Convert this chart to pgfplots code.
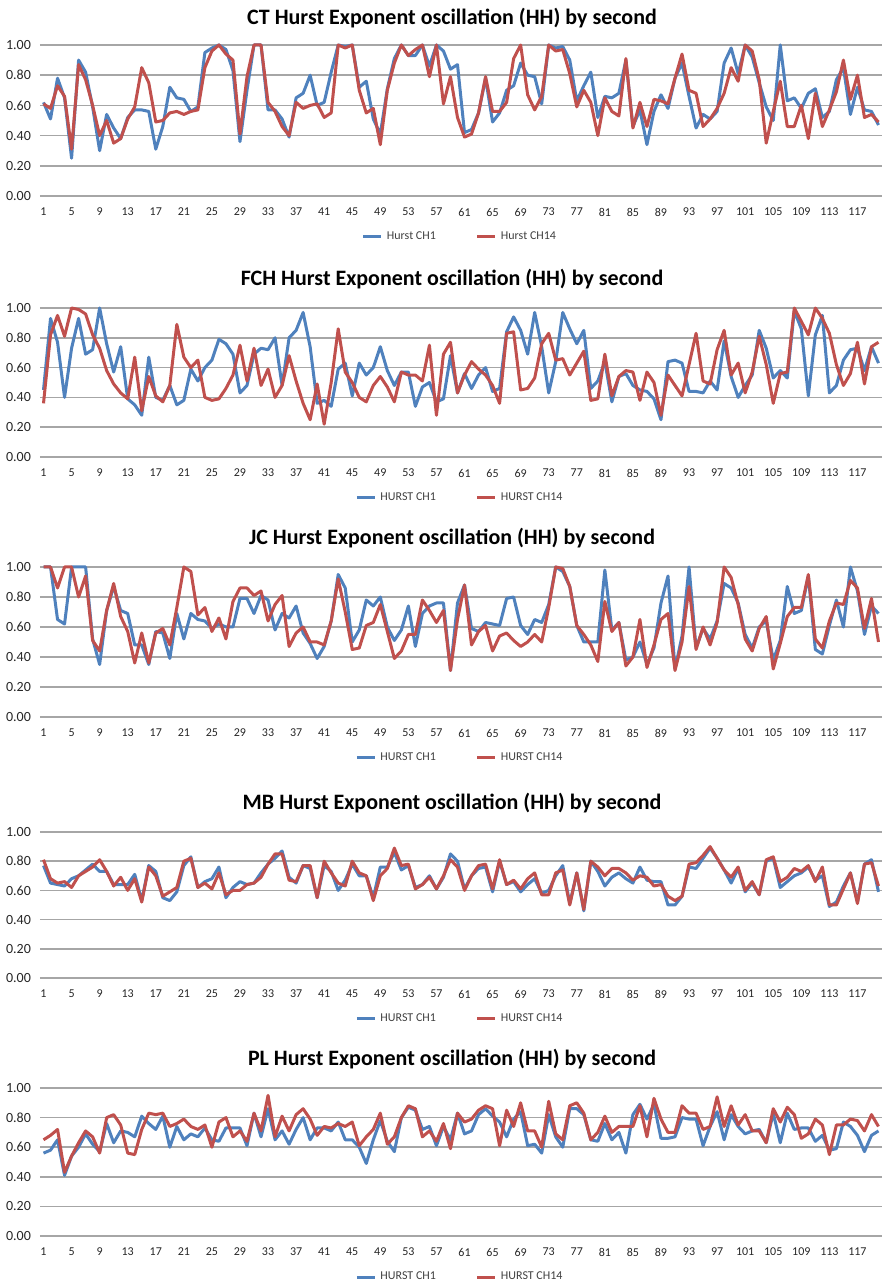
\documentclass[border=0pt]{standalone}
\usepackage{pgfplots}
\usepackage{pgfplotstable}
\pgfplotsset{compat=1.18}
\usepackage{fontspec}
\setmainfont{Carlito}
\definecolor{xlblue}{HTML}{4F81BD}
\definecolor{xlred}{HTML}{C0504D}
\definecolor{gridgray}{HTML}{A6A6A6}
\definecolor{txtgray}{HTML}{262626}
\definecolor{leggray}{HTML}{404040}

% each line is one series (Hurst CH1, Hurst CH14), 120 seconds
\pgfplotstableread[header=false]{
0.62 0.51 0.78 0.65 0.25 0.90 0.82 0.59 0.30 0.54 0.45 0.38 0.52 0.57 0.57 0.56 0.31 0.46 0.72 0.65 0.64 0.56 0.59 0.95 0.98 1.00 0.97 0.83 0.36 0.70 1.00 1.00 0.57 0.57 0.51 0.39 0.65 0.68 0.80 0.60 0.62 0.82 1.00 0.99 1.00 0.72 0.76 0.51 0.41 0.71 0.91 1.00 0.93 0.93 1.00 0.86 1.00 0.96 0.84 0.87 0.42 0.44 0.55 0.78 0.49 0.55 0.70 0.73 0.88 0.80 0.79 0.61 1.00 0.98 0.99 0.90 0.63 0.73 0.82 0.52 0.66 0.65 0.68 0.90 0.46 0.57 0.34 0.56 0.67 0.58 0.78 0.88 0.66 0.45 0.54 0.51 0.56 0.88 0.98 0.81 1.00 0.92 0.75 0.59 0.50 1.00 0.63 0.65 0.58 0.68 0.71 0.52 0.56 0.77 0.85 0.54 0.72 0.57 0.56 0.47
0.61 0.58 0.73 0.66 0.31 0.87 0.77 0.60 0.40 0.50 0.35 0.38 0.51 0.59 0.85 0.75 0.49 0.50 0.55 0.56 0.54 0.56 0.57 0.85 0.96 1.00 0.94 0.90 0.41 0.79 1.00 1.00 0.62 0.56 0.46 0.40 0.62 0.58 0.60 0.61 0.52 0.55 1.00 0.98 1.00 0.70 0.55 0.58 0.34 0.70 0.88 1.00 0.93 0.97 1.00 0.79 1.00 0.61 0.79 0.52 0.39 0.41 0.55 0.79 0.56 0.56 0.62 0.91 1.00 0.67 0.57 0.66 1.00 0.96 0.97 0.81 0.59 0.70 0.62 0.40 0.65 0.56 0.53 0.91 0.45 0.62 0.46 0.64 0.63 0.61 0.78 0.94 0.70 0.68 0.46 0.51 0.58 0.68 0.85 0.76 1.00 0.96 0.77 0.35 0.56 0.76 0.46 0.46 0.60 0.38 0.68 0.46 0.57 0.69 0.90 0.64 0.80 0.52 0.54 0.49
}\rawCT
\pgfplotstableread[header=false]{
0.45 0.93 0.77 0.40 0.73 0.93 0.69 0.72 1.00 0.76 0.57 0.74 0.39 0.35 0.28 0.67 0.40 0.38 0.48 0.35 0.38 0.59 0.51 0.60 0.65 0.79 0.76 0.69 0.43 0.48 0.69 0.73 0.72 0.80 0.48 0.80 0.85 0.97 0.74 0.36 0.38 0.34 0.59 0.63 0.41 0.63 0.55 0.60 0.74 0.58 0.48 0.57 0.57 0.34 0.47 0.50 0.37 0.39 0.68 0.43 0.56 0.46 0.55 0.60 0.44 0.46 0.84 0.94 0.85 0.69 0.97 0.74 0.43 0.64 0.97 0.86 0.76 0.85 0.46 0.51 0.64 0.37 0.54 0.56 0.48 0.45 0.44 0.39 0.25 0.64 0.65 0.63 0.44 0.44 0.43 0.51 0.45 0.78 0.54 0.40 0.48 0.55 0.85 0.73 0.53 0.58 0.53 0.98 0.86 0.41 0.82 0.95 0.43 0.48 0.65 0.72 0.73 0.58 0.74 0.63
0.36 0.82 0.95 0.81 1.00 0.99 0.96 0.82 0.73 0.58 0.49 0.43 0.39 0.67 0.31 0.54 0.41 0.37 0.48 0.89 0.67 0.60 0.65 0.40 0.38 0.39 0.46 0.55 0.75 0.51 0.73 0.48 0.59 0.40 0.48 0.68 0.51 0.36 0.25 0.49 0.22 0.50 0.86 0.57 0.50 0.40 0.37 0.48 0.54 0.47 0.37 0.57 0.55 0.55 0.51 0.75 0.28 0.69 0.77 0.43 0.55 0.64 0.59 0.55 0.48 0.36 0.83 0.84 0.45 0.46 0.53 0.76 0.83 0.65 0.66 0.55 0.63 0.71 0.38 0.39 0.69 0.41 0.54 0.58 0.57 0.38 0.57 0.50 0.28 0.55 0.48 0.41 0.62 0.83 0.51 0.49 0.72 0.85 0.55 0.63 0.43 0.57 0.81 0.62 0.36 0.56 0.57 1.00 0.91 0.82 1.00 0.93 0.83 0.62 0.48 0.56 0.77 0.49 0.74 0.77
}\rawFCH
\pgfplotstableread[header=false]{
1.00 1.00 0.65 0.62 1.00 1.00 1.00 0.52 0.35 0.71 0.87 0.71 0.69 0.48 0.48 0.35 0.57 0.56 0.39 0.69 0.52 0.69 0.65 0.64 0.59 0.62 0.60 0.60 0.79 0.79 0.69 0.81 0.78 0.58 0.69 0.66 0.74 0.56 0.49 0.39 0.47 0.64 0.95 0.86 0.50 0.58 0.78 0.74 0.80 0.60 0.51 0.58 0.74 0.47 0.69 0.74 0.76 0.76 0.31 0.76 0.88 0.59 0.57 0.63 0.62 0.61 0.79 0.80 0.61 0.55 0.65 0.63 0.75 1.00 0.97 0.87 0.61 0.50 0.50 0.50 0.98 0.58 0.63 0.38 0.40 0.50 0.35 0.46 0.76 0.94 0.32 0.54 1.00 0.46 0.59 0.52 0.64 0.89 0.86 0.76 0.55 0.46 0.60 0.64 0.38 0.51 0.87 0.69 0.71 0.94 0.45 0.42 0.61 0.78 0.60 1.00 0.84 0.55 0.74 0.69
1.00 1.00 0.86 1.00 1.00 0.80 0.94 0.51 0.44 0.71 0.89 0.67 0.57 0.36 0.56 0.36 0.56 0.59 0.48 0.73 1.00 0.97 0.68 0.73 0.57 0.66 0.52 0.77 0.86 0.86 0.81 0.84 0.64 0.75 0.81 0.47 0.56 0.60 0.50 0.50 0.48 0.64 0.92 0.70 0.45 0.46 0.61 0.63 0.75 0.57 0.39 0.44 0.55 0.55 0.78 0.71 0.63 0.71 0.31 0.65 0.88 0.48 0.57 0.61 0.44 0.54 0.56 0.51 0.47 0.50 0.55 0.50 0.73 1.00 0.99 0.87 0.61 0.55 0.48 0.37 0.77 0.57 0.63 0.34 0.40 0.65 0.33 0.48 0.65 0.69 0.31 0.50 0.87 0.45 0.60 0.48 0.63 1.00 0.93 0.75 0.52 0.44 0.59 0.67 0.32 0.49 0.67 0.73 0.73 0.95 0.52 0.46 0.64 0.76 0.75 0.91 0.86 0.59 0.79 0.50
}\rawJC
\pgfplotstableread[header=false]{
0.77 0.65 0.64 0.63 0.68 0.70 0.74 0.78 0.73 0.73 0.64 0.64 0.64 0.71 0.53 0.77 0.73 0.55 0.53 0.59 0.77 0.83 0.62 0.66 0.68 0.76 0.55 0.62 0.66 0.64 0.65 0.72 0.78 0.82 0.87 0.69 0.65 0.77 0.75 0.55 0.77 0.73 0.60 0.67 0.78 0.70 0.70 0.55 0.76 0.76 0.86 0.74 0.77 0.62 0.64 0.70 0.61 0.69 0.85 0.80 0.61 0.70 0.75 0.76 0.59 0.80 0.64 0.66 0.59 0.64 0.68 0.58 0.60 0.70 0.77 0.51 0.72 0.46 0.80 0.73 0.63 0.69 0.72 0.68 0.65 0.76 0.67 0.66 0.66 0.50 0.50 0.56 0.76 0.75 0.82 0.89 0.82 0.74 0.65 0.75 0.59 0.65 0.57 0.80 0.82 0.62 0.66 0.70 0.72 0.76 0.67 0.70 0.49 0.52 0.63 0.72 0.52 0.78 0.81 0.59
0.81 0.68 0.65 0.66 0.62 0.70 0.73 0.76 0.81 0.73 0.63 0.69 0.60 0.68 0.52 0.76 0.70 0.56 0.59 0.62 0.80 0.82 0.62 0.65 0.61 0.72 0.57 0.60 0.60 0.64 0.65 0.69 0.78 0.85 0.85 0.67 0.66 0.77 0.77 0.55 0.80 0.72 0.65 0.63 0.80 0.72 0.70 0.53 0.70 0.75 0.89 0.77 0.78 0.61 0.64 0.69 0.61 0.70 0.81 0.76 0.60 0.70 0.77 0.78 0.61 0.81 0.64 0.67 0.61 0.68 0.72 0.57 0.57 0.72 0.74 0.50 0.72 0.47 0.80 0.76 0.70 0.75 0.75 0.72 0.67 0.70 0.69 0.63 0.64 0.56 0.53 0.56 0.78 0.79 0.84 0.90 0.82 0.74 0.69 0.76 0.60 0.66 0.57 0.81 0.83 0.66 0.69 0.75 0.73 0.77 0.66 0.76 0.50 0.50 0.61 0.72 0.51 0.78 0.79 0.63
}\rawMB
\pgfplotstableread[header=false]{
0.56 0.58 0.65 0.41 0.54 0.60 0.69 0.62 0.57 0.76 0.63 0.71 0.70 0.67 0.81 0.76 0.72 0.81 0.60 0.74 0.65 0.69 0.67 0.73 0.65 0.64 0.73 0.73 0.73 0.61 0.83 0.67 0.86 0.65 0.71 0.62 0.72 0.80 0.65 0.73 0.73 0.71 0.77 0.65 0.65 0.60 0.49 0.65 0.78 0.64 0.57 0.80 0.87 0.85 0.72 0.74 0.61 0.74 0.65 0.83 0.69 0.71 0.82 0.86 0.81 0.77 0.67 0.79 0.84 0.61 0.62 0.56 0.82 0.67 0.60 0.86 0.86 0.82 0.65 0.64 0.76 0.65 0.70 0.56 0.82 0.89 0.79 0.89 0.66 0.66 0.67 0.80 0.79 0.79 0.61 0.74 0.84 0.65 0.82 0.74 0.69 0.71 0.72 0.63 0.83 0.63 0.83 0.72 0.73 0.73 0.64 0.68 0.58 0.59 0.77 0.74 0.68 0.57 0.68 0.71
0.65 0.68 0.72 0.43 0.54 0.63 0.71 0.67 0.56 0.80 0.82 0.75 0.56 0.55 0.72 0.83 0.82 0.83 0.74 0.76 0.79 0.74 0.72 0.75 0.60 0.77 0.80 0.67 0.71 0.64 0.83 0.71 0.95 0.67 0.81 0.71 0.82 0.86 0.79 0.68 0.74 0.73 0.76 0.74 0.77 0.61 0.67 0.72 0.83 0.62 0.67 0.80 0.88 0.86 0.67 0.71 0.64 0.76 0.59 0.83 0.77 0.79 0.85 0.88 0.86 0.61 0.85 0.74 0.90 0.71 0.71 0.60 0.91 0.69 0.65 0.88 0.90 0.83 0.65 0.70 0.81 0.70 0.74 0.74 0.74 0.88 0.67 0.93 0.79 0.70 0.70 0.88 0.83 0.83 0.72 0.74 0.94 0.74 0.88 0.75 0.82 0.71 0.71 0.63 0.86 0.77 0.87 0.82 0.66 0.69 0.79 0.75 0.55 0.75 0.75 0.79 0.78 0.71 0.82 0.74
}\rawPL
\pgfplotstabletranspose{\tCT}{\rawCT}
\pgfplotstabletranspose{\tFCH}{\rawFCH}
\pgfplotstabletranspose{\tJC}{\rawJC}
\pgfplotstabletranspose{\tMB}{\rawMB}
\pgfplotstabletranspose{\tPL}{\rawPL}

\pgfplotsset{
  hh/.style={
    scale only axis, width=421pt, height=#1,
    xmin=0.5, xmax=120.5, ymin=0, ymax=1,
    xtick={1,5,...,117},
    ytick={0,0.2,0.4,0.6,0.8,1},
    /pgf/number format/assume math mode=true,
    y tick label style={/pgf/number format/fixed,
      /pgf/number format/fixed zerofill,
      /pgf/number format/precision=2,
      font=\fontsize{7}{8}\selectfont, text=txtgray, xshift=-1pt},
    x tick label style={font=\fontsize{6}{7}\selectfont, text=txtgray, yshift=-2.5pt},
    ymajorgrids, grid style={line width=0.75pt, color=gridgray},
    axis line style={draw=none,-},
    major tick length=0pt,
    clip=false,
    title style={font=\bfseries\fontsize{11}{13}\selectfont, at={(0.5,1)},
      anchor=center, yshift=8.5pt, xshift=-4.5pt},
    legend style={at={(0.5,0)}, anchor=center, yshift=-20.5pt, draw=none, fill=none,
      font=\fontsize{6}{7}\selectfont, text=leggray, legend columns=2,
      /tikz/every even column/.append style={column sep=18pt}},
    legend image code/.code={\draw[##1] (0pt,0pt) -- (9pt,0pt);},
    every axis plot/.append style={line width=1.5pt, line join=round},
  }
}

\begin{document}
\begin{tikzpicture}
\useasboundingbox (0,0) rectangle (442pt,642pt);
\begin{axis}[hh=75.5pt, at={(20pt,544pt)}, anchor=south west,
  title={CT Hurst Exponent oscillation (HH) by second}, title style={yshift=-1pt}]
\addplot[xlblue] table[x expr=\coordindex+1, y index=1] {\tCT};
\addplot[xlred] table[x expr=\coordindex+1, y index=2] {\tCT};
\legend{Hurst CH1, Hurst CH14}
\end{axis}
\begin{axis}[hh=74.5pt, at={(20pt,413.5pt)}, anchor=south west,
  title={FCH Hurst Exponent oscillation (HH) by second}]
\addplot[xlblue] table[x expr=\coordindex+1, y index=1] {\tFCH};
\addplot[xlred] table[x expr=\coordindex+1, y index=2] {\tFCH};
\legend{HURST CH1, HURST CH14}
\end{axis}
\begin{axis}[hh=75pt, at={(20pt,283.5pt)}, anchor=south west,
  title={JC Hurst Exponent oscillation (HH) by second}]
\addplot[xlblue] table[x expr=\coordindex+1, y index=1] {\tJC};
\addplot[xlred] table[x expr=\coordindex+1, y index=2] {\tJC};
\legend{HURST CH1, HURST CH14}
\end{axis}
\begin{axis}[hh=73pt, at={(20pt,153pt)}, anchor=south west,
  title={MB Hurst Exponent oscillation (HH) by second}]
\addplot[xlblue] table[x expr=\coordindex+1, y index=1] {\tMB};
\addplot[xlred] table[x expr=\coordindex+1, y index=2] {\tMB};
\legend{HURST CH1, HURST CH14}
\end{axis}
\begin{axis}[hh=74pt, at={(20pt,24pt)}, anchor=south west,
  title={PL Hurst Exponent oscillation (HH) by second}]
\addplot[xlblue] table[x expr=\coordindex+1, y index=1] {\tPL};
\addplot[xlred] table[x expr=\coordindex+1, y index=2] {\tPL};
\legend{HURST CH1, HURST CH14}
\end{axis}
\end{tikzpicture}
\end{document}
